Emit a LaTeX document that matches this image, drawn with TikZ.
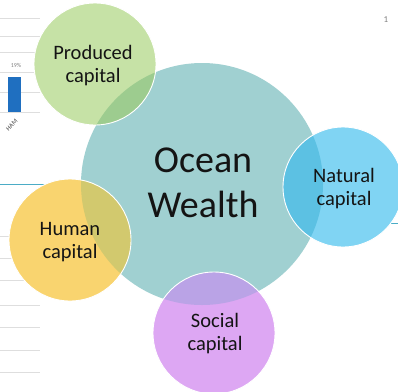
\documentclass[tikz,border=0pt]{standalone}
\usepackage{fontspec}
\setmainfont{Carlito}
\definecolor{mainteal}{HTML}{A0D0D1}
\definecolor{prodc}{HTML}{C6E2A6}
\definecolor{prodov}{HTML}{9DCC8F}
\definecolor{humc}{HTML}{F9D46F}
\definecolor{humov}{HTML}{D2C96E}
\definecolor{natc}{HTML}{80D4F3}
\definecolor{natov}{HTML}{5CC1E3}
\definecolor{socc}{HTML}{DDA7F3}
\definecolor{socov}{HTML}{BAA3E6}
\definecolor{txt}{HTML}{141414}
\definecolor{gridc}{HTML}{DEDEDE}
\definecolor{barc}{HTML}{1F6FC0}
\definecolor{lineteal}{HTML}{4BACC6}
\begin{document}
\begin{tikzpicture}[x=1pt,y=-1pt,
  smalllabel/.style={text=txt, align=center, font=\fontsize{20.5}{23}\selectfont},
  biglabel/.style={text=txt, align=center, font=\fontsize{38}{45}\selectfont},
  gridline/.style={draw=gridc, line width=0.8pt},
  rim/.style={draw=white, line width=0.9pt}]
\useasboundingbox (0,0) rectangle (398,391);
\fill[white] (0,0) rectangle (398,391);
% background chart fragments
\foreach \yy in {18,36,52,72,92,112,236,258,280,305,327,350,372}
  \draw[gridline] (0,\yy) -- (40,\yy);
\fill[barc] (8,77) rectangle (21,112);
\node[text=gray, font=\fontsize{6}{7}\selectfont] (pct) at (16,65) {19\%};
\node[text=darkgray, rotate=45, anchor=east, font=\fontsize{6.5}{7}\selectfont] (ham) at (19,118) {HAM};
\draw[lineteal, line width=0.9pt] (0,184) -- (46,184);
\draw[lineteal, line width=0.9pt] (382,223) -- (398,223);
\node[text=gray, font=\fontsize{9}{10}\selectfont] (one) at (386,20) {1};
% circle centres
\coordinate (mainc) at (202,184);
\coordinate (prodp) at (95,64);
\coordinate (hump) at (70,240);
\coordinate (natp) at (343,187);
\coordinate (socp) at (214,333);
% main circle
\fill[mainteal] (mainc) circle (121pt);
% small circles
\fill[prodc] (prodp) circle (61pt);
\fill[humc] (hump) circle (61pt);
\fill[natc] (natp) circle (60pt);
\fill[socc] (socp) circle (61pt);
\begin{scope}
  \clip (mainc) circle (121pt);
  \fill[prodov] (prodp) circle (61pt);
  \fill[humov] (hump) circle (61pt);
  \fill[natov] (natp) circle (60pt);
  \fill[socov] (socp) circle (61pt);
\end{scope}
\draw[rim] (prodp) circle (61pt);
\draw[rim] (hump) circle (61pt);
\draw[rim] (natp) circle (60pt);
\draw[rim] (socp) circle (61pt);
% labels
\node[biglabel] (ocean) at (203,183) {Ocean\\Wealth};
\node[smalllabel] (produced) at (93,66) {Produced\\capital};
\node[smalllabel] (human) at (70,242) {Human\\capital};
\node[smalllabel] (natural) at (344,189) {Natural\\capital};
\node[smalllabel] (social) at (215,334) {Social\\capital};
\end{tikzpicture}
\end{document}
